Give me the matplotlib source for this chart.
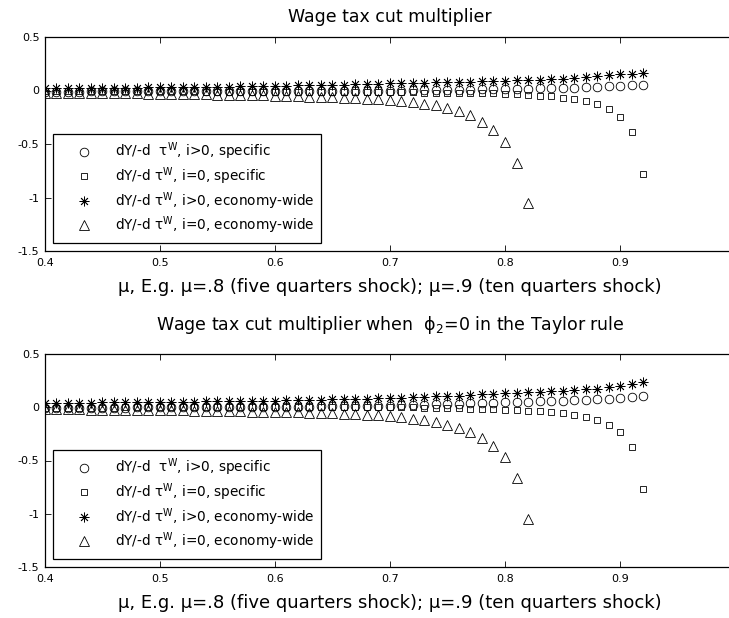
import matplotlib
matplotlib.use("Agg")
import matplotlib.pyplot as plt

plt.rcParams['font.family'] = ['DejaVu Sans']
plt.rcParams['mathtext.fontset'] = 'dejavusans'

# ---------------- data ----------------
mu = [0.40, 0.41, 0.42, 0.43, 0.44, 0.45, 0.46, 0.47, 0.48, 0.49,
      0.50, 0.51, 0.52, 0.53, 0.54, 0.55, 0.56, 0.57, 0.58, 0.59,
      0.60, 0.61, 0.62, 0.63, 0.64, 0.65, 0.66, 0.67, 0.68, 0.69,
      0.70, 0.71, 0.72, 0.73, 0.74, 0.75, 0.76, 0.77, 0.78, 0.79,
      0.80, 0.81, 0.82, 0.83, 0.84, 0.85, 0.86, 0.87, 0.88, 0.89,
      0.90, 0.91, 0.92]
mu_tri = mu[:43]

# top panel
top_pos_specific = [-0.010, -0.010, -0.010, -0.010, -0.009, -0.009, -0.009, -0.009, -0.008, -0.008,
                    -0.008, -0.008, -0.007, -0.007, -0.007, -0.006, -0.006, -0.006, -0.005, -0.005,
                    -0.005, -0.004, -0.004, -0.004, -0.003, -0.003, -0.003, -0.002, -0.002, -0.002,
                    -0.002, 0.000, 0.002, 0.004, 0.006, 0.007, 0.008, 0.009, 0.010, 0.012,
                    0.014, 0.016, 0.018, 0.020, 0.022, 0.025, 0.028, 0.031, 0.035, 0.039,
                    0.043, 0.047, 0.051]
top_zero_specific = [-0.006, -0.006, -0.006, -0.007, -0.007, -0.007, -0.007, -0.008, -0.008, -0.008,
                     -0.008, -0.009, -0.009, -0.009, -0.010, -0.010, -0.010, -0.011, -0.011, -0.012,
                     -0.012, -0.012, -0.013, -0.013, -0.014, -0.014, -0.015, -0.015, -0.016, -0.016,
                     -0.017, -0.017, -0.018, -0.019, -0.020, -0.021, -0.022, -0.024, -0.026, -0.028,
                     -0.031, -0.035, -0.040, -0.047, -0.056, -0.067, -0.082, -0.102, -0.130, -0.174,
                     -0.245, -0.385, -0.780]
top_pos_economy = [0.020, 0.021, 0.022, 0.023, 0.024, 0.025, 0.026, 0.027, 0.028, 0.029,
                   0.030, 0.031, 0.032, 0.033, 0.035, 0.036, 0.037, 0.039, 0.040, 0.042,
                   0.043, 0.045, 0.047, 0.049, 0.051, 0.053, 0.055, 0.058, 0.060, 0.063,
                   0.067, 0.069, 0.071, 0.073, 0.075, 0.077, 0.080, 0.083, 0.086, 0.089,
                   0.092, 0.094, 0.097, 0.100, 0.105, 0.112, 0.118, 0.124, 0.133, 0.142,
                   0.150, 0.158, 0.166]
top_zero_economy = [-0.020, -0.021, -0.022, -0.023, -0.024, -0.025, -0.026, -0.027, -0.028, -0.029,
                    -0.030, -0.032, -0.033, -0.035, -0.036, -0.038, -0.040, -0.042, -0.044, -0.046,
                    -0.049, -0.052, -0.055, -0.058, -0.061, -0.065, -0.069, -0.074, -0.079, -0.084,
                    -0.090, -0.098, -0.108, -0.122, -0.138, -0.160, -0.190, -0.232, -0.290, -0.370,
                    -0.478, -0.675, -1.054]

# bottom panel (phi_2 = 0)
bot_pos_specific = [-0.006, -0.006, -0.005, -0.005, -0.004, -0.004, -0.003, -0.003, -0.002, -0.002,
                    -0.001, -0.001, 0.000, 0.000, 0.001, 0.002, 0.002, 0.003, 0.004, 0.005,
                    0.005, 0.006, 0.006, 0.007, 0.008, 0.009, 0.010, 0.011, 0.012, 0.013,
                    0.014, 0.017, 0.020, 0.023, 0.026, 0.029, 0.032, 0.036, 0.039, 0.042,
                    0.045, 0.048, 0.052, 0.055, 0.059, 0.063, 0.067, 0.071, 0.075, 0.080,
                    0.086, 0.093, 0.101]
bot_zero_specific = [-0.004, -0.004, -0.004, -0.003, -0.003, -0.003, -0.003, -0.002, -0.002, -0.002,
                     -0.002, -0.001, -0.001, -0.001, -0.001, 0.000, 0.000, 0.000, 0.001, 0.001,
                     0.001, 0.001, 0.002, 0.002, 0.002, 0.002, 0.002, 0.002, 0.002, 0.002,
                     0.002, 0.000, -0.002, -0.004, -0.006, -0.008, -0.011, -0.014, -0.017, -0.020,
                     -0.023, -0.027, -0.032, -0.039, -0.048, -0.058, -0.071, -0.092, -0.120, -0.164,
                     -0.235, -0.375, -0.771]
bot_pos_economy = [0.040, 0.041, 0.042, 0.043, 0.044, 0.045, 0.046, 0.047, 0.048, 0.049,
                   0.050, 0.051, 0.052, 0.053, 0.055, 0.056, 0.057, 0.059, 0.060, 0.062,
                   0.063, 0.065, 0.067, 0.069, 0.071, 0.073, 0.075, 0.078, 0.080, 0.083,
                   0.086, 0.090, 0.094, 0.098, 0.102, 0.106, 0.110, 0.115, 0.120, 0.126,
                   0.132, 0.136, 0.140, 0.145, 0.150, 0.156, 0.162, 0.169, 0.176, 0.188,
                   0.201, 0.220, 0.241]
bot_zero_economy = [-0.018, -0.019, -0.020, -0.021, -0.022, -0.023, -0.024, -0.025, -0.026, -0.027,
                    -0.028, -0.029, -0.030, -0.032, -0.033, -0.035, -0.036, -0.038, -0.040, -0.042,
                    -0.044, -0.046, -0.049, -0.052, -0.055, -0.058, -0.062, -0.066, -0.070, -0.074,
                    -0.079, -0.091, -0.106, -0.123, -0.142, -0.164, -0.195, -0.232, -0.288, -0.360,
                    -0.469, -0.662, -1.045]

legend_labels = ['dY/-d  τ$^{\\mathrm{W}}$, i>0, specific',
                 'dY/-d τ$^{\\mathrm{W}}$, i=0, specific',
                 'dY/-d τ$^{\\mathrm{W}}$, i>0, economy-wide',
                 'dY/-d τ$^{\\mathrm{W}}$, i=0, economy-wide']
titles = ['Wage tax cut multiplier',
          'Wage tax cut multiplier when  ϕ$_{\\mathrm{2}}$=0 in the Taylor rule']
xlabel = 'μ, E.g. μ=.8 (five quarters shock); μ=.9 (ten quarters shock)'
xticks = [0.4, 0.5, 0.6, 0.7, 0.8, 0.9, 1.0]
xticklabels = ['0.4', '0.5', '0.6', '0.7', '0.8', '0.9', '']
yticks = [-1.5, -1.0, -0.5, 0.0, 0.5]
yticklabels = ['-1.5', '-1', '-0.5', '0', '0.5']

panels = [
    (top_pos_specific, top_zero_specific, top_pos_economy, top_zero_economy),
    (bot_pos_specific, bot_zero_specific, bot_pos_economy, bot_zero_economy),
]

W, H = 729, 618
fig = plt.figure(figsize=(W / 100, H / 100), dpi=100)
ax_rects = [(45, 37, 690, 214), (45, 354, 690, 213)]  # left, top, width, height in px
title_pads = [11, 17]

for (ps, zs, pe, ze), rect, title, tpad in zip(panels, ax_rects, titles, title_pads):
    l, t, w, h = rect
    ax = fig.add_axes([l / W, (H - t - h) / H, w / W, h / H])
    style = dict(linestyle='none', color='black', markerfacecolor='none',
                 markeredgecolor='black', markeredgewidth=0.6)
    ax.plot(mu, ps, marker='o', markersize=6.2, label=legend_labels[0], **style)
    ax.plot(mu, zs, marker='s', markersize=5.0, label=legend_labels[1], **style)
    ax.plot(mu, pe, marker=(8, 2, 0), markersize=7.0, label=legend_labels[2], **style)
    ax.plot(mu_tri, ze, marker='^', markersize=7.0, label=legend_labels[3], **style)

    ax.set_xlim(0.4, 1.0)
    ax.set_ylim(-1.5, 0.5)
    ax.set_xticks(xticks)
    ax.set_xticklabels(xticklabels)
    ax.set_yticks(yticks)
    ax.set_yticklabels(yticklabels)
    ax.tick_params(direction='in', length=4.5, width=0.6, top=True, right=True,
                   labelsize=8)
    ax.tick_params(axis='x', pad=5)
    ax.tick_params(axis='y', pad=4)
    for sp in ax.spines.values():
        sp.set_linewidth(0.9)
    ax.set_title(title, fontsize=12.5, pad=tpad)
    ax.set_xlabel(xlabel, fontsize=13, labelpad=7)

    leg = ax.legend(loc='lower left', bbox_to_anchor=(8 / 690, 8 / 214),
                    borderaxespad=0, fontsize=9.8, frameon=True, fancybox=False,
                    edgecolor='black', framealpha=1, handlelength=3.5,
                    handletextpad=0.55, borderpad=0.5, labelspacing=0.22)
    leg.get_frame().set_linewidth(0.9)

fig.savefig('out.png', dpi=100)
